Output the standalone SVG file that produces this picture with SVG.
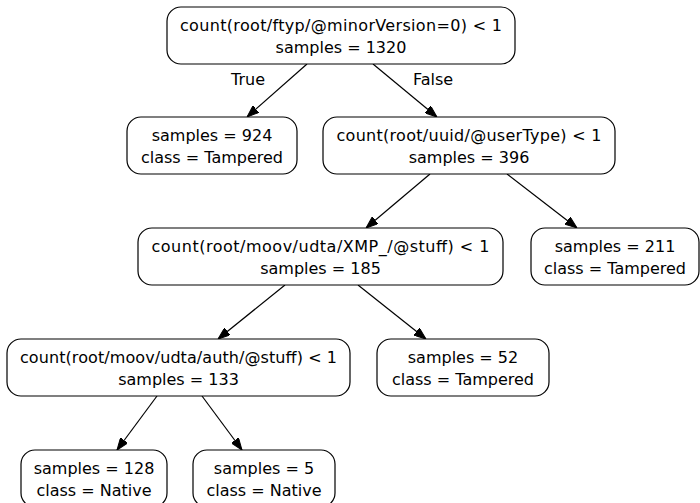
<svg xmlns="http://www.w3.org/2000/svg" width="700" height="503" viewBox="0 0 700 503">
  <style>
    .node rect { fill: #ffffff; stroke: #000000; stroke-width: 1.2; }
    .node text, .elabel { font-family: "DejaVu Sans", "Liberation Sans", sans-serif; font-size: 16px; fill: #000000; text-anchor: middle; }
    .edges line { stroke: #000000; stroke-width: 1.2; marker-end: url(#arrow); }
  </style>
  <defs>
    <marker id="arrow" viewBox="0 0 12 9" refX="12" refY="4.5" markerWidth="12" markerHeight="9" markerUnits="userSpaceOnUse" orient="auto">
      <path d="M0,0 L12,4.5 L0,9 Z" fill="#000000" stroke="#000000" stroke-width="1"/>
    </marker>
  </defs>
  <rect width="700" height="503" fill="#ffffff"/>

  <g id="edges" class="edges">
    <line x1="307" y1="64" x2="247" y2="117"/>
    <line x1="373" y1="64" x2="437" y2="117"/>
    <line x1="430" y1="174" x2="366" y2="228"/>
    <line x1="507" y1="174" x2="577" y2="228"/>
    <line x1="285" y1="285" x2="218" y2="339"/>
    <line x1="358" y1="285" x2="426" y2="339"/>
    <line x1="157" y1="396" x2="117" y2="450"/>
    <line x1="202" y1="396" x2="242" y2="450"/>
    <text class="elabel" x="248" y="85">True</text>
    <text class="elabel" x="433" y="85">False</text>
  </g>

  <g id="node0" class="node">
    <rect x="167" y="7" width="348" height="57" rx="14"/>
    <text x="341" y="31" textLength="322" lengthAdjust="spacing">count(root/ftyp/@minorVersion=0) &lt; 1</text>
    <text x="341" y="53">samples = 1320</text>
  </g>
  <g id="node1" class="node">
    <rect x="127" y="117" width="170" height="57" rx="14"/>
    <text x="212" y="141">samples = 924</text>
    <text x="212" y="163">class = Tampered</text>
  </g>
  <g id="node2" class="node">
    <rect x="323" y="117" width="292" height="57" rx="14"/>
    <text x="469" y="141" textLength="265" lengthAdjust="spacing">count(root/uuid/@userType) &lt; 1</text>
    <text x="469" y="163">samples = 396</text>
  </g>
  <g id="node3" class="node">
    <rect x="138" y="228" width="365" height="57" rx="14"/>
    <text x="320.5" y="252" textLength="338" lengthAdjust="spacing">count(root/moov/udta/XMP_/@stuff) &lt; 1</text>
    <text x="320.5" y="274">samples = 185</text>
  </g>
  <g id="node4" class="node">
    <rect x="531" y="228" width="168" height="57" rx="14"/>
    <text x="615" y="252">samples = 211</text>
    <text x="615" y="274">class = Tampered</text>
  </g>
  <g id="node5" class="node">
    <rect x="7" y="339" width="343" height="57" rx="14"/>
    <text x="178.5" y="363" textLength="317" lengthAdjust="spacing">count(root/moov/udta/auth/@stuff) &lt; 1</text>
    <text x="178.5" y="385">samples = 133</text>
  </g>
  <g id="node6" class="node">
    <rect x="377" y="339" width="172" height="57" rx="14"/>
    <text x="463" y="363">samples = 52</text>
    <text x="463" y="385">class = Tampered</text>
  </g>
  <g id="node7" class="node">
    <rect x="21" y="450" width="146" height="57" rx="14"/>
    <text x="94" y="474">samples = 128</text>
    <text x="94" y="496">class = Native</text>
  </g>
  <g id="node8" class="node">
    <rect x="193" y="450" width="142" height="57" rx="14"/>
    <text x="264" y="474">samples = 5</text>
    <text x="264" y="496">class = Native</text>
  </g>
</svg>
